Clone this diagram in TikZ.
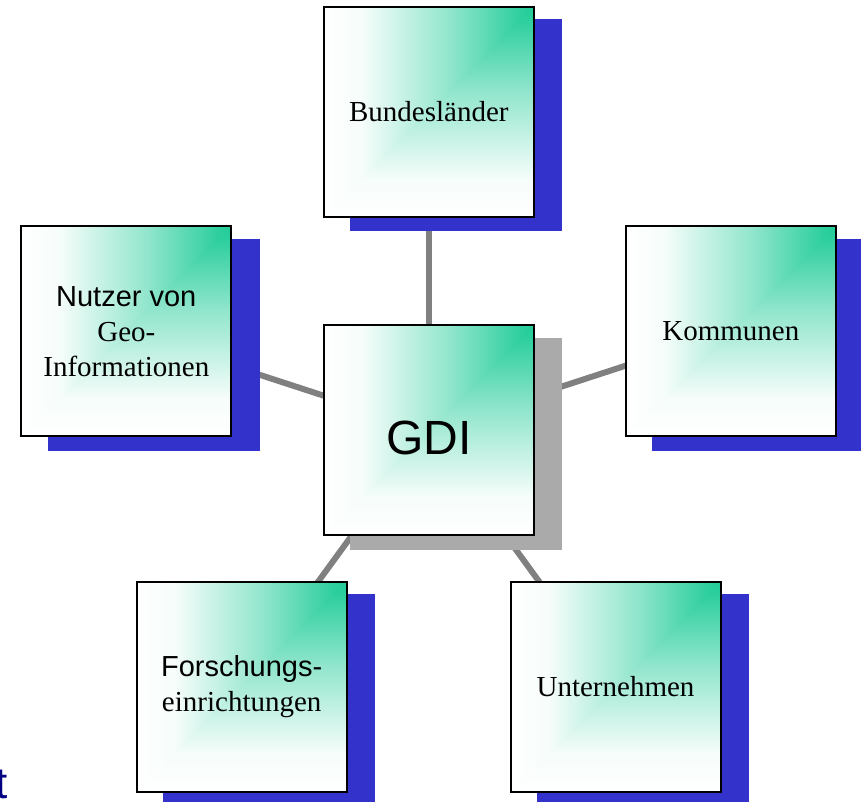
\documentclass[tikz,border=0pt]{standalone}
\usepackage{fontspec}
\setmainfont{Liberation Serif}
\newfontfamily\arial{Liberation Sans}
\usetikzlibrary{backgrounds}

\definecolor{gruen}{RGB}{34,204,153}
\definecolor{schattenblau}{RGB}{51,51,204}
\definecolor{schattengrau}{RGB}{170,170,170}
\definecolor{liniengrau}{RGB}{128,128,128}
\definecolor{dunkelblau}{RGB}{0,0,128}

\pgfdeclarehorizontalshading{verlaufH}{100bp}{color(0bp)=(white); color(25bp)=(white); color(34bp)=(white!96!gruen); color(55bp)=(gruen!50!white); color(72bp)=(gruen!95!white); color(75bp)=(gruen); color(100bp)=(gruen)}
\pgfdeclareverticalshading{verlaufV}{100bp}{color(0bp)=(white); color(25bp)=(white); color(34bp)=(white!96!gruen); color(55bp)=(gruen!50!white); color(72bp)=(gruen!95!white); color(75bp)=(gruen); color(100bp)=(gruen)}

\tikzset{
    kasten/.style={rectangle, draw=black, line width=2pt, minimum size=210pt, inner sep=0pt,
        align=center, font=\fontsize{29pt}{35pt}\selectfont,
        path picture={
            \shade[shading=verlaufH] (path picture bounding box.south west) rectangle (path picture bounding box.north east);
            \shade[shading=verlaufV] (path picture bounding box.south west) -- (path picture bounding box.south east)
                -- (path picture bounding box.north east) -- cycle;
        }},
    verbinder/.style={draw=liniengrau, line width=6pt},
    schatten/.style={fill=schattenblau},
}

\begin{document}
\begin{tikzpicture}[x=1pt, y=-1pt]
    \useasboundingbox (0,0) rectangle (861,802);

    \node[kasten] (bund) at (428.8,112) {Bundesländer};
    \node[kasten] (nutzer) at (126.3,331.3) {{\arial Nutzer von}\\Geo-\\Informationen};
    \node[kasten, font=\arial\fontsize{48pt}{55pt}\selectfont, text height=50pt] (gdi) at (428.8,430) {GDI};
    \node[kasten] (komm) at (730.8,331.3) {Kommunen};
    \node[kasten] (forsch) at (241.7,686.5) {{\arial Forschungs-}\\einrichtungen};
    \node[kasten] (unter) at (615.5,686.5) {Unternehmen};

    \node[anchor=base west, inner sep=0pt, text=dunkelblau, font=\arial\fontsize{44pt}{50pt}\selectfont] (rest) at (-4.4,798.5) {t};

    \begin{scope}[on background layer]
        \foreach \ziel in {bund, nutzer, komm, forsch, unter}
            \draw[verbinder] (gdi.center) -- (\ziel.center);
        \foreach \k in {bund, nutzer, komm, forsch, unter}
            \fill[schatten] ([shift={(27.5,13.5)}]\k.north west) rectangle ([shift={(27.5,13.5)}]\k.south east);
        \fill[schatten, fill=schattengrau] ([shift={(27.5,13.5)}]gdi.north west) rectangle ([shift={(27.5,13.5)}]gdi.south east);
    \end{scope}
\end{tikzpicture}
\end{document}
